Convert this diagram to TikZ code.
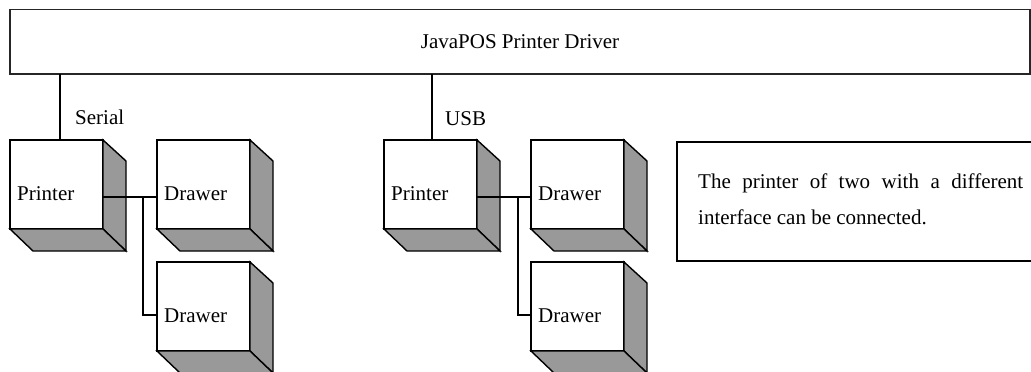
\documentclass[tikz,border=0pt]{standalone}
\usepackage{fontspec}
\setmainfont{Liberation Serif}
\definecolor{shade}{RGB}{153,153,153}
\newcommand{\mycube}[4]{%
  \node[draw, fill=white, line width=1.4pt, minimum width=93pt, minimum height=89pt,
        anchor=north west, inner sep=0pt, outer sep=0pt] (#1) at (#2,#3) {};
  \draw[facestyle] (#1.north east) -- ++(23,21) -- ([shift={(23,22)}]#1.south east) -- (#1.south east) -- cycle;
  \draw[facestyle] (#1.south west) -- (#1.south east) -- ([shift={(23,22)}]#1.south east) -- ([shift={(23,22)}]#1.south west) -- cycle;
  \node[lbl, anchor=base west] (#1l) at ([xshift=7pt,yshift=-60pt]#1.north west) {#4};
}
\begin{document}
\begin{tikzpicture}[x=1pt,y=-1pt,
  lbl/.style={font=\fontsize{21}{25}\selectfont, inner sep=0pt},
  facestyle/.style={fill=shade, draw=black, line width=1.4pt, line join=miter},
  wire/.style={line width=2pt}]
\useasboundingbox (0,0) rectangle (1031,372);
% top box
\node[draw, line width=1.6pt, draw=black!85, minimum width=1020pt, minimum height=64.5pt,
      anchor=north west, inner sep=0pt, outer sep=0pt, font=\fontsize{21}{25}\selectfont] (top) at (10,9.5) {JavaPOS Printer Driver};
% cubes
\mycube{p1}{10}{140}{Printer}
\mycube{d1}{157}{140}{Drawer}
\mycube{d2}{157}{262}{Drawer}
\mycube{p2}{384}{140}{Printer}
\mycube{d3}{531}{140}{Drawer}
\mycube{d4}{531}{262}{Drawer}
% bus lines
\draw[wire] ([xshift=50pt]p1.north west) -- ([xshift=50pt]p1.north west |- top.south);
\draw[wire] ([xshift=48pt]p2.north west) -- ([xshift=48pt]p2.north west |- top.south);
\node[lbl, anchor=base west] (serial) at (75,124) {Serial};
\node[lbl, anchor=base west] (usb) at (445,125) {USB};
% connectors
\draw[wire] ([yshift=-57pt]p1.north east) -- ([yshift=-57pt]d1.north west);
\draw[wire] ([xshift=-14pt,yshift=-57pt]d1.north west) |- ([yshift=-53pt]d2.north west);
\draw[wire] ([yshift=-57pt]p2.north east) -- ([yshift=-57pt]d3.north west);
\draw[wire] ([xshift=-13pt,yshift=-57pt]d3.north west) |- ([yshift=-53pt]d4.north west);
% note box
\coordinate (nb1) at (1033,142);
\coordinate (nb2) at (677,142);
\coordinate (nb3) at (677,261);
\coordinate (nb4) at (1033,261);
\draw[line width=2pt] (nb1) -- (nb2) -- (nb3) -- (nb4);
\node[lbl, anchor=base west] (note1) at (698,188) {\makebox[325pt][s]{The printer of two with a different}};
\node[lbl, anchor=base west] (note2) at (698,224) {interface can be connected.};
\end{tikzpicture}
\end{document}
